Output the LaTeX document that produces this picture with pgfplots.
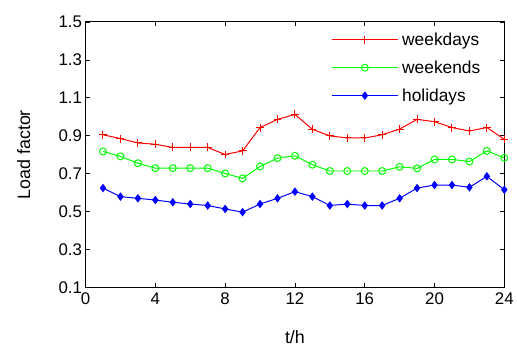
\documentclass[border=0pt]{standalone}
\usepackage{pgfplots}
\pgfplotsset{compat=1.18}
\usepackage{fontspec}
\setmainfont{Liberation Sans}
\begin{document}
\begin{tikzpicture}
\begin{axis}[
  scale only axis, width=421bp, height=267bp,
  xmin=0, xmax=24, ymin=0.1, ymax=1.5,
  xtick={0,4,...,24}, ytick={0.1,0.3,...,1.5},
  yticklabel style={/pgf/number format/.cd,fixed,fixed zerofill,precision=1},
  /pgf/number format/assume math mode=true,
  tick align=inside, major tick length=4.5bp,
  tick style={black, line width=0.6pt},
  axis line style={line width=0.9pt},
  ticklabel style={font=\fontsize{17}{19}\selectfont},
  xticklabel style={yshift=-1.5bp},
  xlabel={t/h}, ylabel={Load factor},
  label style={font=\fontsize{18}{20}\selectfont},
  xlabel style={at={(axis description cs:0.5,0)}, anchor=center, yshift=-50bp},
  ylabel style={at={(axis description cs:0,0.5)}, anchor=center, yshift=62bp},
  legend style={draw=none, fill=none, at={(0.587,0.975)}, anchor=north west,
    font=\fontsize{17.5}{19}\selectfont, row sep=10bp, inner xsep=0pt,
    nodes={inner xsep=4bp}},
  legend cell align=left,
  legend image code/.code={\draw[mark repeat=2,mark phase=2] plot coordinates {(0bp,0bp)(33bp,0bp)(66bp,0bp)};},
]
\addplot[red, line width=1pt, mark=+, mark size=4bp] coordinates {
(1,0.905)(2,0.885)(3,0.862)(4,0.855)(5,0.838)(6,0.838)(7,0.838)(8,0.801)(9,0.82)(10,0.943)(11,0.986)(12,1.012)
(13,0.934)(14,0.899)(15,0.888)(16,0.888)(17,0.905)(18,0.935)(19,0.986)(20,0.974)(21,0.943)(22,0.925)(23,0.943)(24,0.881)};
\addlegendentry{weekdays}
\addplot[green, line width=1pt, mark=o, mark size=3.5bp] coordinates {
(1,0.817)(2,0.791)(3,0.755)(4,0.729)(5,0.729)(6,0.729)(7,0.729)(8,0.701)(9,0.675)(10,0.738)(11,0.782)(12,0.794)
(13,0.747)(14,0.714)(15,0.714)(16,0.714)(17,0.714)(18,0.736)(19,0.728)(20,0.775)(21,0.775)(22,0.764)(23,0.82)(24,0.783)};
\addlegendentry{weekends}
\addplot[blue, line width=1pt, mark=diamond*, mark size=3.5bp] coordinates {
(1,0.624)(2,0.579)(3,0.570)(4,0.561)(5,0.549)(6,0.540)(7,0.532)(8,0.514)(9,0.497)(10,0.540)(11,0.570)(12,0.605)
(13,0.579)(14,0.532)(15,0.540)(16,0.532)(17,0.532)(18,0.570)(19,0.624)(20,0.640)(21,0.640)(22,0.628)(23,0.686)(24,0.615)};
\addlegendentry{holidays}
\end{axis}
\path (current axis.south west) ++(-86bp,-56bp) rectangle ++(517bp,345bp);
\end{tikzpicture}
\end{document}
